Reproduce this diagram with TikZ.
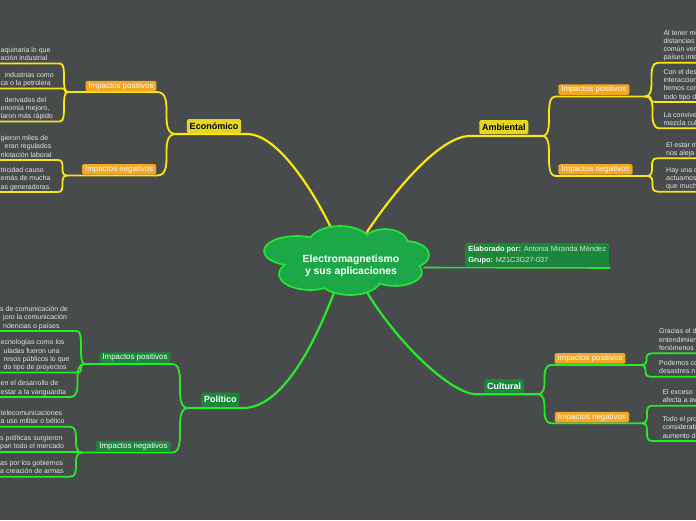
\documentclass[tikz,border=0pt]{standalone}
\usepackage{fontspec}
\setmainfont{Liberation Sans}
\definecolor{bg}{RGB}{71,75,76}
\definecolor{yel}{RGB}{250,232,12}
\definecolor{yelbox}{RGB}{230,214,32}
\definecolor{orng}{RGB}{245,166,35}
\definecolor{grn}{RGB}{40,235,40}
\definecolor{grnbox}{RGB}{27,135,58}
\definecolor{cloudfill}{RGB}{28,168,72}
\definecolor{cloudline}{RGB}{36,232,52}
\definecolor{leaftext}{RGB}{228,228,228}
\definecolor{infotext}{RGB}{215,225,215}
\newcommand\lstrut{\rule{0pt}{6.5pt}}
\begin{document}
\begin{tikzpicture}[x=1pt,y=-1pt,
  yline/.style={draw=yel, line width=1.8pt, line cap=round},
  gline/.style={draw=grn, line width=1.8pt, line cap=round},
  sc/.style={to path={.. controls (\tikztotarget |- \tikztostart) and (\tikztostart |- \tikztotarget) .. (\tikztotarget)}},
  mainbox/.style={rounded corners=1.5pt, font=\fontsize{9}{10}\selectfont\bfseries, inner xsep=2.8pt, inner ysep=0pt, minimum height=14pt},
  ybox/.style={mainbox, fill=yelbox, text=black},
  gbox/.style={mainbox, fill=grnbox, text=white},
  subbox/.style={rounded corners=1.5pt, font=\fontsize{7.9}{9}\selectfont, inner xsep=3pt, inner ysep=0pt, minimum height=10.5pt, text=white},
  obox/.style={subbox, fill=orng},
  gsbox/.style={subbox, fill=grnbox},
  leaf/.style={anchor=north west, inner sep=0pt, align=left, text=leaftext, font=\fontsize{7}{8.2}\selectfont},
]
\useasboundingbox (0,0) rectangle (696,520);
\clip (0,0) rectangle (696,520);
\fill[bg] (0,0) rectangle (696,520);

\coordinate (edgeL) at (0,0);
\coordinate (edgeR) at (696,0);
% cloud attachment points
\coordinate (cE) at (332,230);
\coordinate (cA) at (367,232);
\coordinate (cP) at (335,290);
\coordinate (cC) at (365,289);
\coordinate (cI) at (424,267.5);

% ---------------- Economico
\coordinate (Er) at (247,134);
\coordinate (BE) at (176,134);
\coordinate (EPr) at (157,92);
\coordinate (EPb) at (68,92);
\coordinate (ENr) at (157,175.5);
\coordinate (ENb) at (67,175.5);
\coordinate (EP1e) at (60,63.5);
\coordinate (EP2e) at (62,88.5);
\coordinate (EP3e) at (60,121.5);
\coordinate (EN1e) at (58,160);
\coordinate (EN2e) at (58,192);
\draw[yline, line width=2.2pt] (cE) .. controls (318,200) and (280,134) .. (Er) -- (BE);
\draw[yline] (EPb) -- (EPr) to[sc] (BE);
\draw[yline] (ENb) -- (ENr) to[sc] (BE);
\foreach \l/\b in {EP1e/EPb, EP2e/EPb, EP3e/EPb, EN1e/ENb, EN2e/ENb}
  \draw[yline] (\l -| edgeL) -- (\l) to[sc] (\b);

% ---------------- Politico
\coordinate (Pr) at (243,408);
\coordinate (PB) at (188,408);
\coordinate (PPr) at (172,364);
\coordinate (PPb) at (85,364);
\coordinate (PNr) at (172,452.5);
\coordinate (PNb) at (82,452.5);
\coordinate (PP1e) at (77,331);
\coordinate (PP2e) at (77,372.5);
\coordinate (PP3e) at (70,397);
\coordinate (PN1e) at (70,426.7);
\coordinate (PN2e) at (76,452);
\coordinate (PN3e) at (70,476.7);
\draw[gline, line width=2.2pt] (cP) .. controls (318,335) and (285,408) .. (Pr) -- (PB);
\draw[gline] (PPb) -- (PPr) to[sc] (PB);
\draw[gline] (PNb) -- (PNr) to[sc] (PB);
\foreach \l/\b in {PP1e/PPb, PP2e/PPb, PP3e/PPb, PN1e/PNb, PN2e/PNb, PN3e/PNb}
  \draw[gline] (\l -| edgeL) -- (\l) to[sc] (\b);

% ---------------- Ambiental
\coordinate (Al) at (470,136);
\coordinate (AB) at (542,136);
\coordinate (APl) at (556,96.5);
\coordinate (APb) at (645,96.5);
\coordinate (ANl) at (556,176);
\coordinate (ANb) at (647,176);
\coordinate (AP1s) at (658,62.7);
\coordinate (AP2s) at (657,102);
\coordinate (AP3s) at (660,128.3);
\coordinate (AN1s) at (657,158.3);
\coordinate (AN2s) at (658,191.7);
\draw[yline, line width=2.2pt] (cA) .. controls (395,190) and (440,136) .. (Al) -- (AB);
\draw[yline] (AB) to[sc] (APl) -- (APb);
\draw[yline] (AB) to[sc] (ANl) -- (ANb);
\foreach \s/\b in {AP1s/APb, AP2s/APb, AP3s/APb, AN1s/ANb, AN2s/ANb}
  \draw[yline] (\b) to[sc] (\s) -- (\s -| edgeR);

% ---------------- Cultural
\coordinate (Cl) at (477,394.3);
\coordinate (CB) at (537,394.3);
\coordinate (CPl) at (552,365);
\coordinate (CPb) at (640,365);
\coordinate (CNl) at (552,423.3);
\coordinate (CNb) at (642,423.3);
\coordinate (CP1s) at (653,353.3);
\coordinate (CP2s) at (651,376.7);
\coordinate (CN1s) at (652,405.7);
\coordinate (CN2s) at (652,441);
\draw[gline, line width=2.2pt] (cC) .. controls (395,340) and (450,394.3) .. (Cl) -- (CB);
\draw[gline] (CB) to[sc] (CPl) -- (CPb);
\draw[gline] (CB) to[sc] (CNl) -- (CNb);
\foreach \s/\b in {CP1s/CPb, CP2s/CPb, CN1s/CNb, CN2s/CNb}
  \draw[gline] (\b) to[sc] (\s) -- (\s -| edgeR);

% ---------------- info line
\coordinate (IU) at (610,268);
\draw[gline, line width=1.6pt] (cI) -- (IU);

% ---------------- cloud
\foreach \cx/\cy/\rx/\ry in {297/251/32/14, 340/243/30/16, 385/244/22/14, 405/255/23/13, 395/272/26/13, 350/279/30/15, 310/274/30/15, 350/260/55/22}
  \draw[cloudline, line width=3.6pt] (\cx,\cy) ellipse [x radius=\rx, y radius=\ry];
\foreach \cx/\cy/\rx/\ry in {297/251/32/14, 340/243/30/16, 385/244/22/14, 405/255/23/13, 395/272/26/13, 350/279/30/15, 310/274/30/15, 350/260/55/22}
  \fill[cloudfill] (\cx,\cy) ellipse [x radius=\rx, y radius=\ry];
\node[align=center, text=white, font=\fontsize{10.4}{12.3}\selectfont\bfseries, inner sep=0pt] (center) at (351,265.5) {Electromagnetismo\\y sus aplicaciones};

% ---------------- info box
\node[fill=grnbox, rounded corners=1pt, anchor=north west, minimum width=144pt, minimum height=23.5pt, inner xsep=3pt, inner ysep=0pt, align=left, font=\fontsize{7.4}{11.4}\selectfont, text=white] (info) at (465,243) {\textbf{Elaborado por:} {\color{infotext}Antonia Miranda Méndez}\\\textbf{Grupo:} {\color{infotext}M21C3G27-037}};

% ---------------- main boxes
\node[ybox] (E) at (214,126.2) {Económico};
\node[ybox] (A) at (503.8,127.2) {Ambiental};
\node[gbox] (P) at (220.3,399.7) {Político};
\node[gbox] (C) at (504.2,386) {Cultural};

% ---------------- sub boxes
\node[obox] (EP) at (121,86) {Impactos positivos};
\node[obox] (EN) at (119.2,169.3) {Impactos negativos};
\node[gsbox] (PP) at (135,357.5) {Impactos positivos};
\node[gsbox] (PN) at (133.5,446) {Impactos negativos};
\node[obox] (AP) at (593.8,89.5) {Impactos positivos};
\node[obox] (AN) at (595.5,169.3) {Impactos negativos};
\node[obox] (CP) at (590,358.3) {Impactos positivos};
\node[obox] (CN) at (592,417) {Impactos negativos};

% ---------------- leaves (left)
\node[leaf] (EP1) at (0.5,45.6) {\lstrut aquinaria lo que\\ación industrial};
\node[leaf] (EP2) at (0.5,70.6) {\lstrut\hspace*{4pt}industrias como\\ca o la petrolera};
\node[leaf] (EP3) at (0.5,95.4) {\lstrut\hspace*{4pt}derivados del\\onomía mejoro,\\laron más rápido};
\node[leaf] (EN1) at (0.5,133.9) {\lstrut gieron miles de\\\hspace*{4pt}eran regulados\\nlotación laboral};
\node[leaf] (EN2) at (0.5,165.9) {\lstrut tricidad causo\\emás de mucha\\as generadoras.};
\node[leaf] (PP1) at (0,304.9) {\lstrut s de comunicación de\\\hspace*{3pt}joro la comunicación\\\hspace*{3pt}ndencias o países};
\node[leaf] (PP2) at (0.5,338.2) {\lstrut ecnologías como los\\\hspace*{3pt}uladas fueron una\\\hspace*{3pt}resos públicos lo que\\\hspace*{3pt}do tipo de proyectos};
\node[leaf] (PP3) at (0.5,379.1) {\lstrut en el desarrollo de\\estar a la vanguardia};
\node[leaf] (PN1) at (0.5,408.8) {\lstrut telecomunicaciones\\a uso militar o bélico};
\node[leaf] (PN2) at (0,433.8) {\lstrut s políticas surgieron\\pan todo el mercado};
\node[leaf] (PN3) at (0,458.8) {\lstrut as por los gobiernos\\a creación de armas};

% ---------------- leaves (right)
\node[leaf] (AP1) at (663.3,28.4) {\lstrut Al tener me\\distancias\\común ver\\países inte};
\node[leaf] (AP2) at (663.3,67.7) {\lstrut Con el des\\interaccion\\hemos con\\todo tipo d};
\node[leaf] (AP3) at (663.3,110.4) {\lstrut La convive\\mezcla cul};
\node[leaf] (AN1) at (666,140.4) {\lstrut El estar m\\nos aleja};
\node[leaf] (AN2) at (666,165.6) {\lstrut Hay una c\\actuamos\\que much};
\node[leaf] (CP1) at (659,327.2) {\lstrut Gracias el d\\entendimien\\fenómenos};
\node[leaf] (CP2) at (659,358.8) {\lstrut Podemos co\\desastres n};
\node[leaf] (CN1) at (662.3,387.8) {\lstrut El exceso\\afecta a av};
\node[leaf] (CN2) at (662.3,414.9) {\lstrut Todo el pro\\considerab\\aumento de};
\end{tikzpicture}
\end{document}
